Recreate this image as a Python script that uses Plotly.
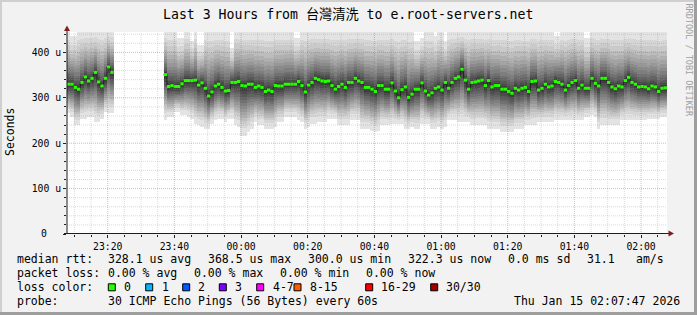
import plotly.graph_objects as go
from datetime import datetime, timedelta

# ---------------- data (microseconds) ----------------
START = datetime(2026, 1, 14, 23, 7, 47)
STEP = timedelta(minutes=1)

# median rtt per minute (None = no data)
median_us = [
    330, 330, 323, 319, 334, 346, 337, 343, 356, 335, 326, 343, 368, 356,
    None, None, None, None, None, None, None, None, None, None, None, None, None, None, None,
    351, 325, 327, 325, 325, 331, 338, 338, 338,
    339, 328, 333, 321, 304, 313, 326, 330, 323, 315, 316, 334, 334, 336, 327, 326, 330, 330, 323,
    326, 323, 314, 317, 314, 327, 326, 326, 330, 330, 330, 330, 336, 327, 313, 328, 334, 343, 340,
    337, 336, 337, 327, 319, 325, 330, 323, 334, 334, 343, 337, 334, 323, 323, 319, 314, 327, 327,
    319, 319, 333, 315, 300, 318, 324, 301, 308, 319, 319, 333, 315, 306, 311, 321, 324, 317, 334,
    321, 334, 343, 346, 363, 339, 319, 334, 335, 337, 339, 327, 338, 324, 327, 327, 319, 319,
    314, 310, 321, 317, 321, 323, 314, 336, 337, 317, 321, 330, 324, 326, 336, 334, 330, 317,
    327, 334, 338, 321, 328, 321, 321, 343, 332, 326, 343, 343, 334, 324, 320,
    326, 324, 338, 345, 334, 330, 324, 325, 324, 320, 326, 324, 314, 321, 322,
]

# lowest ping per minute
min_us = [
    266, 258, 240, 240, 254, 254, 258, 258, 247, 247, 254, 269, 266, 266,
    None, None, None, None, None, None, None, None, None, None, None, None, None, None, None,
    251, 258, 258, 269, 269, 262, 262, 258, 254,
    243, 240, 236, 232, 232, 243, 251, 254, 254, 247, 254, 254, 240, 236, 217, 217, 225, 232, 247,
    240, 240, 232, 232, 232, 236, 247, 247, 258, 258, 258, 258, 251, 247, 232, 236, 243, 243, 247,
    247, 247, 254, 254, 254, 240, 240, 240, 240, 251, 251, 251, 232, 232, 232, 228, 225, 228, 240,
    240, 240, 243, 243, 243, 243, 232, 232, 236, 232, 232, 243, 243, 243, 232, 232, 236, 232, 236,
    251, 251, 251, 247, 247, 247, 247, 240, 240, 240, 240, 240, 232, 232, 232, 232, 225, 225,
    225, 225, 232, 232, 232, 240, 240, 240, 240, 247, 247, 247, 247, 247, 251, 251, 251, 251,
    251, 251, 251, 251, 251, 258, 258, 262, 258, 232, 240, 240, 240, 240, 240,
    240, 251, 251, 251, 251, 251, 251, 251, 251, 254, 254, 254, 254, 258, 258,
]

# highest ping per minute (450 = beyond top of graph)
max_us = [
    450, 436, 436, 450, 450, 450, 450, 450, 450, 450, 450, 450, 450, 450,
    None, None, None, None, None, None, None, None, None, None, None, None, None, None, None,
    450, 450, 450, 450, 432, 432, 450, 450, 425,
    450, 417, 417, 450, 450, 450, 450, 450, 450, 450, 450, 410, 450, 450, 450, 450, 450, 450, 450,
    450, 450, 450, 450, 450, 450, 450, 450, 450, 450, 450, 432, 432, 450, 450, 450, 450, 450, 450,
    450, 450, 450, 450, 450, 450, 450, 450, 450, 450, 450, 450, 450, 450, 450, 450, 450, 450, 450,
    450, 450, 450, 450, 450, 450, 450, 450, 450, 425, 425, 432, 450, 450, 450, 436, 450, 450, 425,
    450, 450, 450, 450, 450, 450, 450, 450, 450, 450, 450, 450, 450, 450, 450, 450, 450, 450,
    450, 450, 450, 450, 450, 450, 450, 450, 450, 450, 450, 450, 450, 450, 436, 436, 450, 450,
    450, 450, 450, 450, 450, 432, 432, 450, 450, 450, 450, 450, 450, 450, 450,
    450, 450, 450, 450, 450, 450, 450, 450, 450, 450, 450, 450, 450, 450, 450,
]

# relative position of the sorted pings between median and min / max (outer pair first)
SMOKE_LO_SHAPE = [1.0, 0.85, 0.77, 0.70, 0.64, 0.58, 0.52, 0.46, 0.40, 0.34, 0.28, 0.22, 0.16, 0.10, 0.05]
SMOKE_HI_SHAPE = [1.0, 0.82, 0.72, 0.63, 0.55, 0.48, 0.41, 0.35, 0.29, 0.23, 0.18, 0.13, 0.09, 0.05, 0.025]

y_ticks = [100, 200, 300, 400]
y_tick_text = ["100 u", "200 u", "300 u", "400 u"]

loss_labels = ["0", "1", "2", "3", "4-7", "8-15", "16-29", "30/30"]
loss_colors = ["#26ff00", "#00b8ff", "#0059ff", "#7e00ff", "#ff00ff", "#ff5e00", "#ff0000", "#a10000"]

title = "Last 3 Hours from 台灣清洗 to e.root-servers.net"
rows = [
    [(16, "median rtt:"), (107.3, "328.1 us avg"), (207.3, "368.5 us max"), (307.3, "300.0 us min"),
     (407.3, "322.3 us now"), (507.0, "0.0 ms sd"), (586.0, "31.1"), (635.0, "am/s")],
    [(16, "packet loss:"), (107.3, "0.00 % avg"), (193.3, "0.00 % max"), (279.3, "0.00 % min"),
     (365.3, "0.00 % now")],
    [(16, "loss color:")],
    [(16, "probe:"), (107.3, "30 ICMP Echo Pings (56 Bytes) every 60s"), (513.3, "Thu Jan 15 02:07:47 2026")],
]
row_y = [259.3, 273.3, 287.3, 301.3]
swatch_x = [108.3, 145.7, 182.7, 219.3, 256.7, 294.0, 365.7, 430.7]
label_x = [123.3, 160.7, 197.3, 234.3, 271.7, 309.0, 380.0, 445.3]

# ---------------- geometry ----------------
W, H = 697, 315
L, R, T, B = 67, 30, 32, 81
PW, PH = W - L - R, H - T - B
N = len(median_us)
MONO = "DejaVu Sans Mono, Noto Sans CJK TC, monospace"


def px(x):
    return (x - L) / PW


def py(y):
    return (H - B - y) / PH


def t(k):
    return (START + k * STEP).strftime("%Y-%m-%d %H:%M:%S")


fig = go.Figure()

# smoke bands
for i in range(15):
    ibot = i + 1
    g = int(190 / 15 * (15 - ibot)) + 50
    xs, ys = [], []
    k = 0
    while k < N:
        if median_us[k] is None:
            k += 1
            continue
        j = k
        while j < N and median_us[j] is not None:
            j += 1
        for m in range(k, j):
            hi = median_us[m] + SMOKE_HI_SHAPE[i] * (max_us[m] - median_us[m])
            xs += [t(m), t(m + 1)]
            ys += [hi, hi]
        for m in range(j - 1, k - 1, -1):
            lo = median_us[m] - SMOKE_LO_SHAPE[i] * (median_us[m] - min_us[m])
            xs += [t(m + 1), t(m)]
            ys += [lo, lo]
        xs.append(None)
        ys.append(None)
        k = j
    fig.add_trace(go.Scatter(x=xs, y=ys, mode="lines", fill="toself",
                             fillcolor=f"rgb({g},{g},{g})", line=dict(width=0),
                             hoverinfo="skip", showlegend=False))

# dark median step line
fig.add_trace(go.Scatter(x=[t(k) for k in range(N + 1)], y=median_us + [median_us[-1]],
                         mode="lines", line=dict(color="#202020", width=1, shape="hv"),
                         connectgaps=False, hoverinfo="skip", showlegend=False))

# green median bars (0 % loss)
gx, gy = [], []
for k in range(N):
    if median_us[k] is None:
        continue
    gx += [t(k), t(k + 1), None]
    gy += [median_us[k], median_us[k], None]
fig.add_trace(go.Scatter(x=gx, y=gy, mode="lines", line=dict(color="#26ff00", width=3),
                         hoverinfo="skip", showlegend=False))

shapes = []
# grid lines (drawn over the smoke like rrdtool)
grid_minor = "rgba(143,143,143,0.32)"
grid_major = "rgba(222,79,79,0.45)"
for v in range(20, 445, 20):
    col = grid_major if v % 100 == 0 else grid_minor
    shapes.append(dict(type="line", xref="paper", yref="y", x0=0, x1=1, y0=v, y1=v,
                       line=dict(color=col, width=1, dash="1px,1px"), layer="above"))
gt = datetime(2026, 1, 14, 23, 10)
end = START + N * STEP
while gt < end:
    col = grid_major if gt.minute % 20 == 0 else grid_minor
    s = gt.strftime("%Y-%m-%d %H:%M:%S")
    shapes.append(dict(type="line", xref="x", yref="paper", x0=s, x1=s, y0=0, y1=1,
                       line=dict(color=col, width=1, dash="1px,1px"), layer="above"))
    gt += timedelta(minutes=5)

# axes lines and arrows
shapes.append(dict(type="line", xref="paper", yref="paper", x0=px(67), x1=px(67), y0=py(234), y1=py(29),
                   line=dict(color="#1f1f1f", width=1), layer="above"))
shapes.append(dict(type="line", xref="paper", yref="paper", x0=px(64), x1=px(670), y0=py(233.5), y1=py(233.5),
                   line=dict(color="#1f1f1f", width=1), layer="above"))
shapes.append(dict(type="path", xref="paper", yref="paper",
                   path=f"M {px(64)} {py(31)} L {px(70)} {py(31)} L {px(67)} {py(25.5)} Z",
                   fillcolor="#801f1f", line=dict(width=0), layer="above"))
shapes.append(dict(type="path", xref="paper", yref="paper",
                   path=f"M {px(668.5)} {py(230.5)} L {px(668.5)} {py(236.5)} L {px(674)} {py(233.5)} Z",
                   fillcolor="#801f1f", line=dict(width=0), layer="above"))

# frame shading
shapes.append(dict(type="rect", xref="paper", yref="paper", x0=px(0), x1=px(W), y0=py(0), y1=py(2),
                   fillcolor="#cfcfcf", line=dict(width=0), layer="above"))
shapes.append(dict(type="rect", xref="paper", yref="paper", x0=px(0), x1=px(2), y0=py(0), y1=py(H),
                   fillcolor="#cfcfcf", line=dict(width=0), layer="above"))
shapes.append(dict(type="rect", xref="paper", yref="paper", x0=px(W - 3), x1=px(W), y0=py(0), y1=py(H),
                   fillcolor="#9e9e9e", line=dict(width=0), layer="above"))
shapes.append(dict(type="rect", xref="paper", yref="paper", x0=px(0), x1=px(W), y0=py(H - 3), y1=py(H),
                   fillcolor="#9e9e9e", line=dict(width=0), layer="above"))

# loss colour swatches
for sx, c in zip(swatch_x, loss_colors):
    shapes.append(dict(type="rect", xref="paper", yref="paper", x0=px(sx), x1=px(sx + 7),
                       y0=py(283.8), y1=py(290.8), fillcolor=c, line=dict(color="#000000", width=1),
                       layer="above"))

annotations = []


def txt(x, y, s, size=11.5, xanchor="left", color="#000000", angle=0):
    annotations.append(dict(x=px(x), y=py(y), xref="paper", yref="paper", text=s, showarrow=False,
                            xanchor=xanchor, yanchor="middle", textangle=angle, borderpad=0,
                            font=dict(family=MONO, size=size, color=color)))


txt(347.5, 14.7, title, size=13.2, xanchor="center")
for ry, row in zip(row_y, rows):
    for x, s in row:
        txt(x, ry, s.replace(" ", "\u00a0"))
for lx, lab in zip(label_x, loss_labels):
    txt(lx, row_y[2], lab)
txt(10, 132, "Seconds", size=11.5, xanchor="center", angle=-90)
txt(688.5, 60, "RRDTOOL / TOBI OETIKER".replace(" ", "\u00a0"), size=8.5, xanchor="center",
    color="#a0a0a0", angle=90)
# zero label of the y axis (rrdtool pads it with the empty unit)
txt(48, 233.5, "0", size=9.75, xanchor="right")

fig.update_layout(
    width=W, height=H,
    margin=dict(l=L, r=R, t=T, b=B, pad=0),
    paper_bgcolor="#f2f2f2", plot_bgcolor="#ffffff",
    showlegend=False,
    font=dict(family=MONO, size=10, color="#000000"),
    shapes=shapes, annotations=annotations,
)
fig.update_xaxes(type="date", range=[t(0), t(N)], tickformat="%H:%M", dtick=20 * 60 * 1000,
                 tick0="2026-01-14 23:00:00", ticks="outside", ticklen=3, tickcolor="#1f1f1f",
                 showgrid=False, zeroline=False, showline=False,
                 tickfont=dict(family=MONO, size=9.75, color="#000000"),
                 minor=dict(dtick=5 * 60 * 1000, ticks="outside", ticklen=2, tickcolor="#1f1f1f",
                            showgrid=False))
fig.update_yaxes(range=[0, 445], tickvals=[0] + y_ticks, ticktext=[""] + y_tick_text, ticks="outside",
                 ticklen=3, tickcolor="#1f1f1f", showgrid=False, zeroline=False, showline=False,
                 tickfont=dict(family=MONO, size=9.75, color="#000000"),
                 minor=dict(tickvals=list(range(20, 445, 20)), ticks="outside", ticklen=2,
                            tickcolor="#1f1f1f", showgrid=False))

# render the smoke polygons without anti-aliasing seams (blocky like rrdtool)
POST = ("document.querySelectorAll('path.js-fill').forEach(function(e){"
        "e.setAttribute('shape-rendering','crispEdges');});")
fig.write_html("out.html", config={"displayModeBar": False}, post_script=POST)
